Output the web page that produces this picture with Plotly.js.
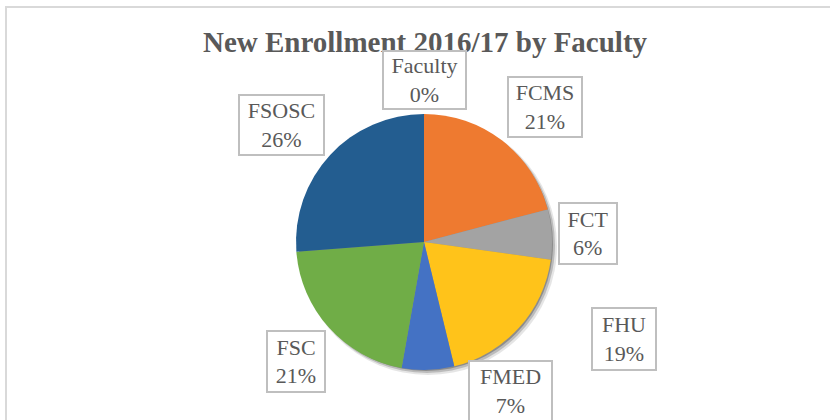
<!DOCTYPE html>
<html>
<head>
<meta charset="utf-8">
<script src="https://cdn.plot.ly/plotly-3.0.1.min.js"></script>
<style>html,body{margin:0;padding:0;background:#fff;}#chart{width:830px;height:420px;}</style>
</head>
<body>
<div id="chart"></div>
<script>
// Data
const labels = ["Faculty", "FCMS", "FCT", "FHU", "FMED", "FSC", "FSOSC"];
const values = [0, 20.9, 6.3, 19.0, 6.6, 21.0, 26.2];
const pctLabels = ["0%", "21%", "6%", "19%", "7%", "21%", "26%"];
const colors = ["#5B9BD5", "#EE7A30", "#A3A3A3", "#FFC31A", "#4472C4", "#70AD47", "#235D90"];

// Layout helpers (pixel geometry of the 830x420 canvas)
const W = 830, H = 420;
const cx = 424, cy = 242, r = 128;
const boxPos = [
  [424, 80, 85, 60],
  [545, 107, 76, 62],
  [588, 233, 60, 63],
  [624, 339, 66, 64],
  [510, 391, 85, 62],
  [296, 361, 60, 63],
  [281, 125, 87, 62]
];

const px = x => x / W;
const py = y => 1 - y / H;

const annotations = labels.map((lab, i) => ({
  xref: 'paper', yref: 'paper',
  x: px(boxPos[i][0]), y: py(boxPos[i][1]),
  xanchor: 'center', yanchor: 'middle',
  text: lab + '<br>' + pctLabels[i],
  showarrow: false,
  width: boxPos[i][2] - 4, height: boxPos[i][3] - 4,
  borderpad: 0, borderwidth: 2, bordercolor: '#BFBFBF',
  bgcolor: i === 0 ? 'rgba(255,255,255,0)' : '#FFFFFF',
  font: {family: 'Liberation Serif, serif', size: 22, color: '#595959'}
}));

const shadow = (off, alpha, grow) => ({
  type: 'circle', xref: 'paper', yref: 'paper', layer: 'below',
  x0: px(cx - r - grow + off), x1: px(cx + r + grow + off),
  y0: py(cy + r + grow + off), y1: py(cy - r - grow + off),
  fillcolor: 'rgba(0,0,0,' + alpha + ')', line: {width: 0}
});

const trace = {
  type: 'pie',
  labels: labels,
  values: values,
  sort: false,
  direction: 'clockwise',
  rotation: 0,
  textinfo: 'none',
  hoverinfo: 'label+percent',
  marker: {colors: colors, line: {width: 0}},
  showlegend: false,
  domain: {x: [px(cx - r), px(cx + r)], y: [py(cy + r), py(cy - r)]}
};

const layout = {
  width: W, height: H,
  margin: {l: 0, r: 0, t: 0, b: 0},
  paper_bgcolor: '#FFFFFF',
  title: {
    text: '<b>New Enrollment 2016/17 by Faculty</b>',
    font: {family: 'Liberation Serif, serif', size: 29, color: '#595959'},
    x: 425 / W, xanchor: 'center', xref: 'paper',
    y: 1 - 42 / H, yanchor: 'middle', yref: 'container'
  },
  shapes: [
    {type: 'rect', xref: 'paper', yref: 'paper', x0: px(6), x1: px(900), y0: py(480), y1: py(7),
     line: {color: '#D9D9D9', width: 2}, fillcolor: 'rgba(0,0,0,0)', layer: 'below'},
    shadow(4, 0.10, 1),
    shadow(3, 0.18, 0),
    shadow(2, 0.25, -1)
  ],
  annotations: annotations
};

Plotly.newPlot('chart', [trace], layout, {displayModeBar: false, staticPlot: true});
</script>
</body>
</html>
